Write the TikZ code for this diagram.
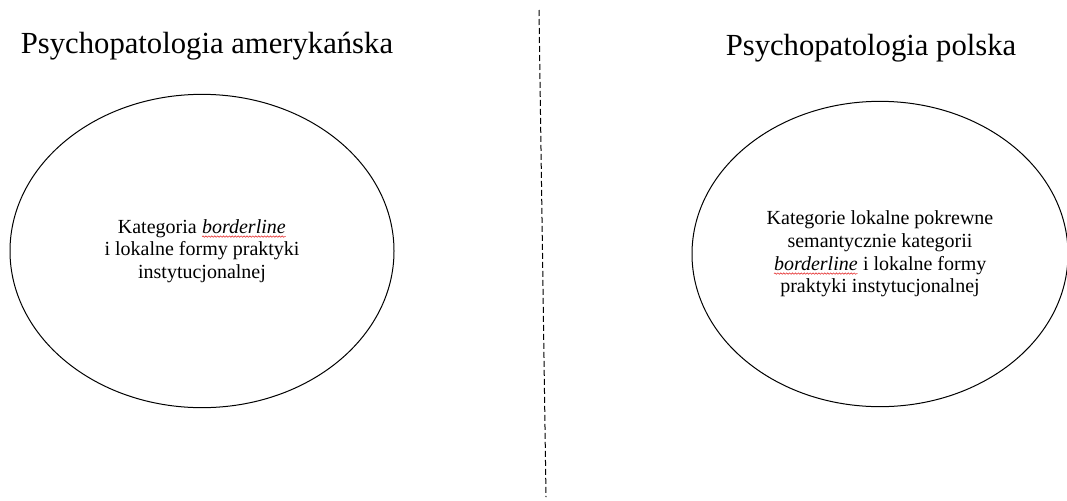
\documentclass[tikz,border=0pt]{standalone}
\usepackage{fontspec}
\setmainfont{Liberation Serif}
\usepackage{xcolor}
\usetikzlibrary{positioning, shapes.geometric, decorations.pathmorphing}
\definecolor{spellRed}{RGB}{230, 60, 60}
% red wavy underline as the editor marks it
\newcommand\spellwave[1]{\tikz[baseline=(w.base)]{%
    \node[shape=rectangle, draw=none, fill=none, inner sep=0pt, outer sep=0pt,
        minimum width=0pt, minimum height=0pt] (w) {#1};
    \draw[spellRed, line width=0.5pt, decorate,
        decoration={snake, amplitude=0.5pt, segment length=2.2pt}]
        ([yshift=-2.6pt]w.base west) -- ([yshift=-2.6pt]w.base east);}}

\begin{document}
\begin{tikzpicture}[
        x=0.75pt, y=-0.75pt,
        ttl/.style={anchor=base, inner sep=0pt, font=\fontsize{23pt}{27pt}\selectfont},
        oval/.style={ellipse, draw, line width=0.75pt, align=center, inner sep=0pt,
            font=\fontsize{15pt}{17pt}\selectfont},
        sep/.style={dashed, dash pattern=on 4.5pt off 2.25pt, line width=0.75pt}
    ]
    \useasboundingbox (0,0) rectangle (1067,500);

    \node[ttl] (tAmer) at (207,53) {Psychopatologia amerykańska};
    \node[ttl] (tPol)  at (871,55) {Psychopatologia polska};

    \node[oval, minimum width=288pt, minimum height=235pt] (amer) at (202,251)
        {Kategoria \spellwave{\textit{borderline}}\\i lokalne formy praktyki\\instytucjonalnej};
    \node[oval, minimum width=282pt, minimum height=229pt] (pol) at (880,254)
        {Kategorie lokalne pokrewne\\semantycznie kategorii\\\spellwave{\textit{borderline}} i lokalne formy\\praktyki instytucjonalnej};

    % divider
    \coordinate (divTop) at (539,10);
    \coordinate (divBot) at (546,497);
    \draw[sep] (divTop) -- (divBot);
\end{tikzpicture}
\end{document}
